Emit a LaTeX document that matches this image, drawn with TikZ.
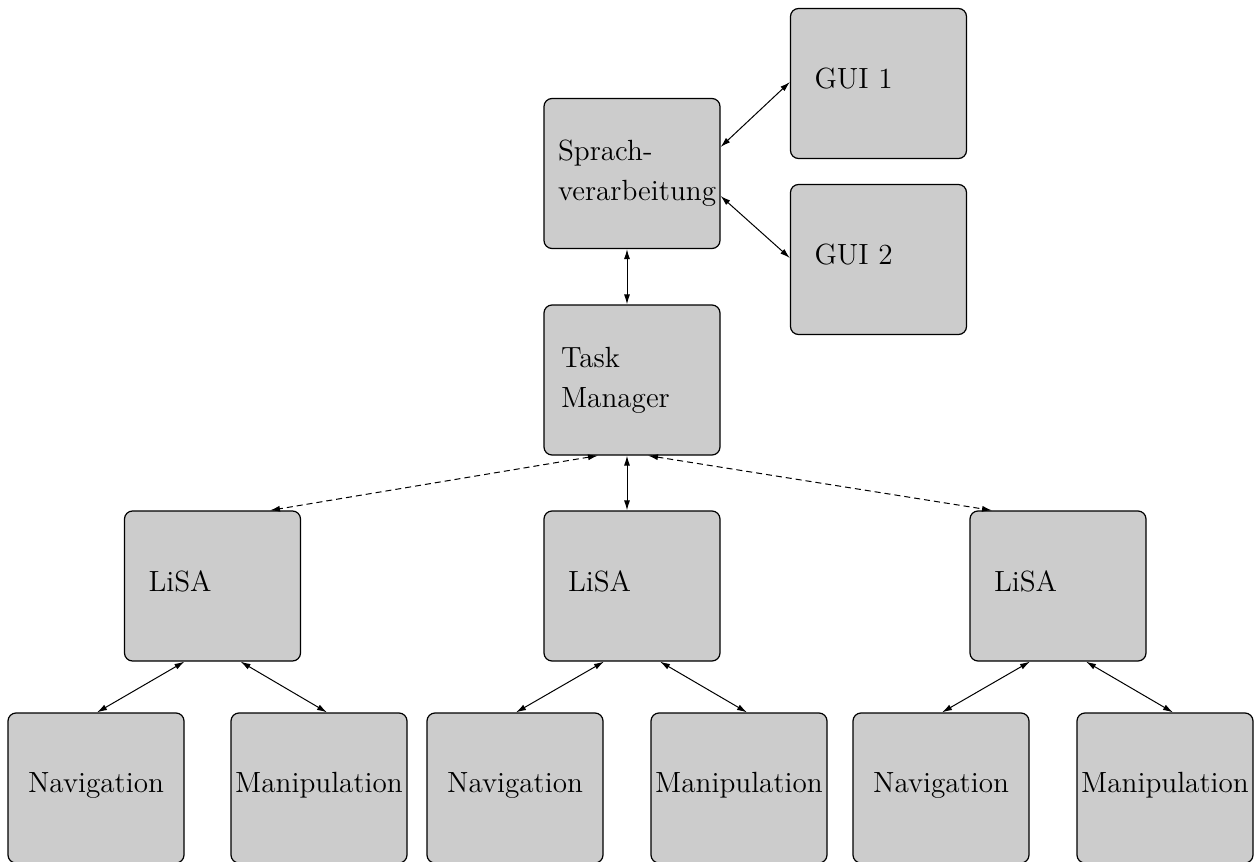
\documentclass[tikz,border=0pt]{standalone}
\usetikzlibrary{arrows.meta,calc}
\definecolor{boxgray}{gray}{0.8}
\begin{document}
\begin{tikzpicture}[x=0.5pt,y=-0.5pt,
  box/.style={draw, line width=0.6pt, fill=boxgray, rounded corners=4pt,
    minimum width=88pt, minimum height=75pt, inner ysep=0pt,
    font=\fontsize{14.6}{20}\selectfont},
  cbox/.style={box, inner xsep=0pt, align=center, text depth=5.5pt},
  lbox/.style={box, inner xsep=12pt, text width=64pt, align=left, text depth=5pt},
  sbox/.style={box, inner xsep=7pt, text width=74pt, align=left},
  tbox/.style={box, inner xsep=8.5pt, text width=71pt, align=left},
  link/.style={line width=0.5pt, {Latex[length=5pt,width=3pt]}-{Latex[length=5pt,width=3pt]}},
  weak/.style={link, dash pattern=on 3pt off 2pt}]
\useasboundingbox (0,0) rectangle (1255,862);

% upper part: speech processing, GUIs, task manager
\node[lbox] (gui1) at (878.5,83.5) {GUI 1};
\node[sbox] (sp)   at (632,173.5) {Sprach-\\verarbeitung};
\node[lbox] (gui2) at (878.5,259.5) {GUI 2};
\node[tbox] (tm)   at (632,380) {Task\\Manager};

% LiSA instances
\node[lbox] (lisa1) at (212.5,586) {LiSA};
\node[lbox] (lisa2) at (632,586) {LiSA};
\node[lbox] (lisa3) at (1058,586) {LiSA};

% modules below each LiSA
\node[cbox] (nav1) at (96,788) {Navigation};
\node[cbox] (man1) at (319,788) {Manipulation};
\node[cbox] (nav2) at (515,788) {Navigation};
\node[cbox] (man2) at (739,788) {Manipulation};
\node[cbox] (nav3) at (941,788) {Navigation};
\node[cbox] (man3) at (1165,788) {Manipulation};

% connectors
\draw[link] ($(sp.east)+(0,-26.5)$) -- ($(gui1.west)+(0,-1.5)$);
\draw[link] ($(sp.east)+(0,22.5)$) -- ($(gui2.west)+(0,-1.5)$);
\draw[link] ($(sp.south)+(-5,0)$) -- ($(tm.north)+(-5,0)$);
\draw[link] ($(tm.south)+(-5,0)$) -- ($(lisa2.north)+(-5,0)$);
\draw[weak] ($(tm.south)+(-34,0)$) -- ($(lisa1.north)+(57.5,0)$);
\draw[weak] ($(tm.south)+(16,0)$) -- ($(lisa3.north)+(-66,0)$);

\foreach \i in {1,2,3}{
  \draw[link] ($(lisa\i.south)+(-28,0)$) -- ($(nav\i.north)+(1,0)$);
  \draw[link] ($(lisa\i.south)+(28,0)$) -- ($(man\i.north)+(8,0)$);
}
\end{tikzpicture}
\end{document}
